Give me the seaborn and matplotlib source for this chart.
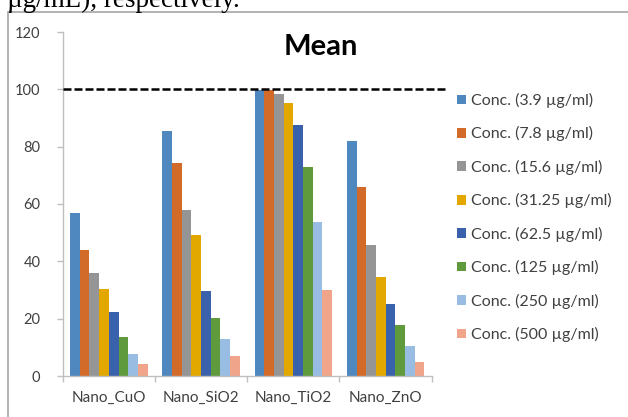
import matplotlib
matplotlib.use("Agg")
import matplotlib.pyplot as plt
import seaborn as sns
import pandas as pd
from matplotlib.patches import Rectangle, Patch

sns.set_theme(style="white")
plt.rcParams['font.family'] = ['Lato', 'DejaVu Sans']

materials = ["Nano_CuO", "Nano_SiO2", "Nano_TiO2", "Nano_ZnO"]
concs = ["Conc. (3.9 \u00b5g/ml)", "Conc. (7.8 \u00b5g/ml)", "Conc. (15.6 \u00b5g/ml)",
         "Conc. (31.25 \u00b5g/ml)", "Conc. (62.5 \u00b5g/ml)", "Conc. (125 \u00b5g/ml)",
         "Conc. (250 \u00b5g/ml)", "Conc. (500 \u00b5g/ml)"]
cuo = [56.7, 44.1, 36.0, 30.3, 22.3, 13.5, 7.8, 4.3]
sio2 = [85.5, 74.2, 57.9, 49.2, 29.7, 20.3, 12.8, 7.0]
tio2 = [99.8, 99.9, 98.5, 95.2, 87.7, 72.8, 53.8, 30.1]
zno = [81.9, 66.1, 45.8, 34.6, 25.0, 17.8, 10.6, 4.9]
yticks = [0, 20, 40, 60, 80, 100, 120]
colors = ["#4F88BE", "#D26B2A", "#959595", "#E3A800", "#3A62AC", "#5F9A3C", "#98BCE2", "#F0A48A"]

rows = []
for m, vals in zip(materials, [cuo, sio2, tio2, zno]):
    for c, v in zip(concs, vals):
        rows.append({"material": m, "conc": c, "value": v})
df = pd.DataFrame(rows)

fig = plt.figure(figsize=(6.28, 4.17), dpi=100)
W, H = 628, 417
ax = fig.add_axes([62.7 / W, 1 - 376 / H, (431.7 - 62.7) / W, (376 - 32) / H])

sns.barplot(data=df, x="material", y="value", hue="conc", order=materials,
            hue_order=concs, palette=colors, saturation=1, width=0.84,
            linewidth=0, ax=ax, legend=False)

ax.set_xlim(-0.5, 3.5)
ax.set_ylim(0, 120)
ax.set_yticks(yticks)
ax.set_yticklabels([str(t) for t in yticks])
ax.set_xlabel("")
ax.set_ylabel("")
for s in ["top", "right"]:
    ax.spines[s].set_visible(False)
for s in ["left", "bottom"]:
    ax.spines[s].set_color("#BFBFBF")
    ax.spines[s].set_linewidth(1.0)

ax.set_xticks(range(len(materials)))
ax.set_xticklabels(materials)
ax.set_xticks([i - 0.5 for i in range(len(materials) + 1)], minor=True)
ax.tick_params(axis="x", which="major", length=0, pad=11, labelsize=11, labelcolor="#404040")
ax.tick_params(axis="x", which="minor", length=4, color="#BFBFBF", width=1.0, bottom=True)
ax.tick_params(axis="y", which="major", length=4, color="#BFBFBF", width=1.0, left=True,
               pad=12, labelsize=10.5, labelcolor="#404040")

# dashed reference line at 100
ax.plot([0, (445 - 62.7) / (431.7 - 62.7)], [100, 100], color="black", lw=1.8,
        dashes=(3.2, 1.2), transform=ax.get_yaxis_transform(), clip_on=False, zorder=5)

fig.text(321 / W, 1 - 47 / H, "Mean", ha="center", va="center", fontsize=21,
         fontweight="bold", color="black")

handles = [Patch(facecolor=c, edgecolor="none") for c in colors]
fig.legend(handles, concs, loc="upper left", bbox_to_anchor=(457 / W, 1 - 93 / H),
           frameon=False, borderpad=0, borderaxespad=0, handlelength=0.55,
           handleheight=0.55, handletextpad=0.35, labelspacing=1.15, fontsize=11.5,
           labelcolor="#404040")

# chart border
fig.patches.append(Rectangle((8 / W, -0.1), 1.2, 1 - 12 / H + 0.1, transform=fig.transFigure,
                             fill=False, edgecolor="#A6A6A6", lw=1.2))

# cropped text from the page above (cut off at the top edge, as in the reference)
fig.text(7 / W, 1 - 7 / H, "\u00b5g/mL), respectively.", ha="left", va="baseline",
         fontsize=19.5, family=["Liberation Serif", "DejaVu Serif"], color="black")

fig.savefig("out.png", dpi=100)
